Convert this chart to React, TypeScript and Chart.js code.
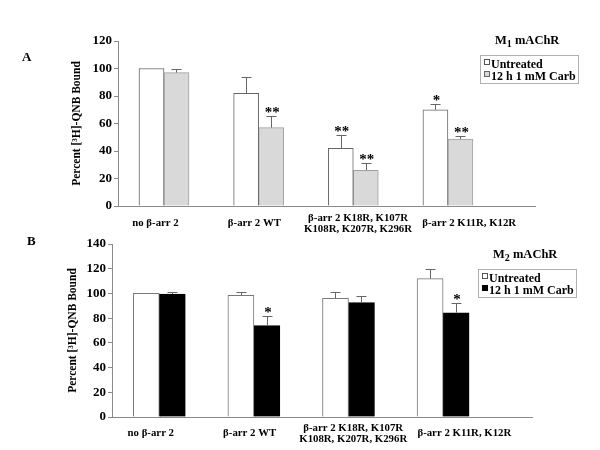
import { useEffect, useRef } from "react"
import { Chart, registerables } from "chart.js"

Chart.register(...registerables)

const categories = [
  ["no β-arr 2"],
  ["β-arr 2 WT"],
  ["β-arr 2 K18R, K107R", "K108R, K207R, K296R"],
  ["β-arr 2 K11R, K12R"],
]
const seriesNames = ["Untreated", "12 h 1 mM Carb"]

// Panel A - M1 mAChR
const m1Untreated = [100, 82, 42, 70]
const m1UntreatedErr = [0, 11.5, 10, 4.3]
const m1UntreatedSig = ["", "", "**", "*"]
const m1Carb = [97, 57, 26, 48.6]
const m1CarbErr = [2.3, 8.5, 5, 2.2]
const m1CarbSig = ["", "**", "**", "**"]
const m1Ticks = [0, 20, 40, 60, 80, 100, 120]

// Panel B - M2 mAChR
const m2Untreated = [100, 98.5, 96, 112]
const m2UntreatedErr = [0, 3, 4.8, 7.8]
const m2UntreatedSig = ["", "", "", ""]
const m2Carb = [99.5, 74, 92.5, 84.4]
const m2CarbErr = [2, 7.5, 5.7, 7.6]
const m2CarbSig = ["", "*", "", "*"]
const m2Ticks = [0, 20, 40, 60, 80, 100, 120, 140]

const SERIF = "'Liberation Serif', 'Times New Roman', serif"
const AXIS = "#8a8a8a"
// the category labels in the original sit a little off the bar groups
const LABEL_SHIFT = [-0.09, -0.045, 0.05, 0.225]

type PanelProps = {
  top: number
  height: number
  plotLeft: number
  plotRight: number
  plotTop: number
  plotBottom: number
  xMin: number
  xMax: number
  barWidth: number
  titleX: number
  labelPad: number
  untreated: number[]
  untreatedErr: number[]
  untreatedSig: string[]
  carb: number[]
  carbErr: number[]
  carbSig: string[]
  yTicks: number[]
  carbFill: string
  carbBorder: string
  untreatedBorder: string
}

function BarPanel(p: PanelProps) {
  const canvasRef = useRef<HTMLCanvasElement>(null)
  const chartRef = useRef<Chart | null>(null)

  useEffect(() => {
    if (!canvasRef.current) return
    if (chartRef.current) chartRef.current.destroy()
    const ctx = canvasRef.current.getContext("2d")
    if (!ctx) return

    const errs = [p.untreatedErr, p.carbErr]
    const sigs = [p.untreatedSig, p.carbSig]

    // error bars (upper only) and significance stars
    const errorBars = {
      id: "errorBars",
      afterDatasetsDraw(chart: Chart) {
        const c = chart.ctx
        const y = chart.scales.y
        c.save()
        chart.data.datasets.forEach((ds, di) => {
          const meta = chart.getDatasetMeta(di)
          meta.data.forEach((el: any, i) => {
            const v = (ds.data[i] as any).y as number
            const e = errs[di][i]
            const yb = y.getPixelForValue(v)
            const yt = y.getPixelForValue(v + e)
            const cx = Math.round(el.x) + 0.5
            if (e > 0) {
              c.strokeStyle = "#666"
              c.lineWidth = 1
              c.beginPath()
              c.moveTo(cx, yb)
              c.lineTo(cx, Math.round(yt) + 0.5)
              c.moveTo(cx - 5, Math.round(yt) + 0.5)
              c.lineTo(cx + 5, Math.round(yt) + 0.5)
              c.stroke()
            }
            const s = sigs[di][i]
            if (s) {
              c.fillStyle = "#000"
              c.font = `bold 15px ${SERIF}`
              c.textAlign = "center"
              c.textBaseline = "alphabetic"
              c.fillText(s, el.x + 1, yt + 1)
            }
          })
        })
        c.restore()
      },
    }

    const toPoints = (vals: number[]) => vals.map((v, i) => ({ x: i, y: v }))

    chartRef.current = new Chart(ctx, {
      type: "bar",
      data: {
        datasets: [
          {
            label: seriesNames[0],
            data: toPoints(p.untreated) as any,
            backgroundColor: "#ffffff",
            borderColor: p.untreatedBorder,
            borderWidth: 1,
            barThickness: p.barWidth,
          },
          {
            label: seriesNames[1],
            data: toPoints(p.carb) as any,
            backgroundColor: p.carbFill,
            borderColor: p.carbBorder,
            borderWidth: 1,
            barThickness: p.barWidth,
          },
        ],
      },
      options: {
        animation: false,
        responsive: true,
        maintainAspectRatio: false,
        layout: {
          padding: { left: 0, right: 600 - p.plotRight, top: p.plotTop, bottom: 0 },
        },
        plugins: {
          legend: { display: false },
          tooltip: { enabled: false },
        },
        scales: {
          x: {
            type: "linear",
            min: p.xMin,
            max: p.xMax,
            offset: false,
            afterBuildTicks: (s: any) => {
              s.ticks = categories.map((_, i) => ({ value: i + LABEL_SHIFT[i] }))
            },
            afterFit: (s: any) => {
              s.height = p.height - p.plotBottom
            },
            grid: { display: false, drawTicks: false },
            border: { display: true, color: AXIS },
            ticks: {
              autoSkip: false,
              maxRotation: 0,
              minRotation: 0,
              padding: p.labelPad,
              crossAlign: "center",
              color: "#000",
              font: { family: SERIF, size: 10.8, weight: "bold", lineHeight: 1.02 },
              callback: (_v: any, index: number) => categories[index] ?? "",
            },
          },
          y: {
            min: p.yTicks[0],
            max: p.yTicks[p.yTicks.length - 1],
            afterBuildTicks: (s: any) => {
              s.ticks = p.yTicks.map((v) => ({ value: v }))
            },
            afterFit: (s: any) => {
              s.width = p.plotLeft
            },
            grid: { drawOnChartArea: false, drawTicks: true, tickLength: 4, color: AXIS },
            border: { display: true, color: AXIS },
            ticks: {
              padding: 2,
              color: "#000",
              font: { family: SERIF, size: 13, weight: "bold" },
            },
            title: {
              display: true,
              text: "Percent [³H]-QNB Bound",
              color: "#000",
              font: { family: SERIF, size: 11.5, weight: "bold", lineHeight: 1.2 },
              padding: { top: p.titleX - 7, bottom: 0 },
            },
          },
        },
      },
      plugins: [errorBars],
    })

    return () => {
      if (chartRef.current) {
        chartRef.current.destroy()
        chartRef.current = null
      }
    }
  }, [])

  return (
    <div style={{ position: "absolute", left: 0, top: p.top, width: 600, height: p.height }}>
      <canvas ref={canvasRef}></canvas>
    </div>
  )
}

function Legend(props: { left: number; top: number; sub: string; carbFill: string; carbBorder: string }) {
  const text = { fontFamily: SERIF, fontWeight: "bold" as const, color: "#000" }
  const marker = (fill: string, border: string) => (
    <span
      style={{
        display: "inline-block",
        width: 4,
        height: 4,
        background: fill,
        border: `1px solid ${border}`,
        marginTop: 1,
        marginRight: 1,
      }}
    />
  )
  return (
    <>
      <div
        style={{
          ...text,
          position: "absolute",
          left: props.left + 15,
          top: props.top - 22,
          fontSize: 12.5,
          lineHeight: "14px",
          whiteSpace: "nowrap",
        }}
      >
        M<span style={{ fontSize: 10, position: "relative", top: 3 }}>{props.sub}</span> mAChR
      </div>
      <div
        style={{
          ...text,
          position: "absolute",
          left: props.left,
          top: props.top,
          width: 99,
          height: 29,
          border: "1px solid #b0b0b0",
          boxSizing: "border-box",
          fontSize: 12,
          lineHeight: "12px",
          padding: "2px 0 0 3px",
          whiteSpace: "nowrap",
        }}
      >
        <div style={{ display: "flex", alignItems: "flex-start" }}>
          {marker("#fff", "#555")}
          <span>{seriesNames[0]}</span>
        </div>
        <div style={{ display: "flex", alignItems: "flex-start" }}>
          {marker(props.carbFill, props.carbBorder)}
          <span>{seriesNames[1]}</span>
        </div>
      </div>
    </>
  )
}

export default function App() {
  const label = {
    position: "absolute" as const,
    fontFamily: SERIF,
    fontWeight: "bold" as const,
    fontSize: 13,
  }
  return (
    <div style={{ position: "absolute", left: 0, top: 0, width: 600, height: 450, background: "#fff" }}>
      <BarPanel
        top={0}
        height={240}
        plotLeft={118}
        plotRight={535}
        plotTop={41}
        plotBottom={206}
        xMin={-0.486}
        xMax={3.92}
        barWidth={25}
        titleX={77}
        labelPad={12}
        untreated={m1Untreated}
        untreatedErr={m1UntreatedErr}
        untreatedSig={m1UntreatedSig}
        carb={m1Carb}
        carbErr={m1CarbErr}
        carbSig={m1CarbSig}
        yTicks={m1Ticks}
        carbFill="#d9d9d9"
        carbBorder="#a0a0a0"
        untreatedBorder="#666"
      />
      <BarPanel
        top={230}
        height={220}
        plotLeft={112}
        plotRight={532}
        plotTop={14}
        plotBottom={187}
        xMin={-0.5}
        xMax={3.94}
        barWidth={26}
        titleX={73}
        labelPad={11}
        untreated={m2Untreated}
        untreatedErr={m2UntreatedErr}
        untreatedSig={m2UntreatedSig}
        carb={m2Carb}
        carbErr={m2CarbErr}
        carbSig={m2CarbSig}
        yTicks={m2Ticks}
        carbFill="#000"
        carbBorder="#000"
        untreatedBorder="#777"
      />
      <div style={{ ...label, left: 22, top: 49 }}>A</div>
      <div style={{ ...label, left: 27, top: 233 }}>B</div>
      <Legend left={480} top={55} sub="1" carbFill="#d9d9d9" carbBorder="#666" />
      <Legend left={478} top={269} sub="2" carbFill="#000" carbBorder="#000" />
    </div>
  )
}
